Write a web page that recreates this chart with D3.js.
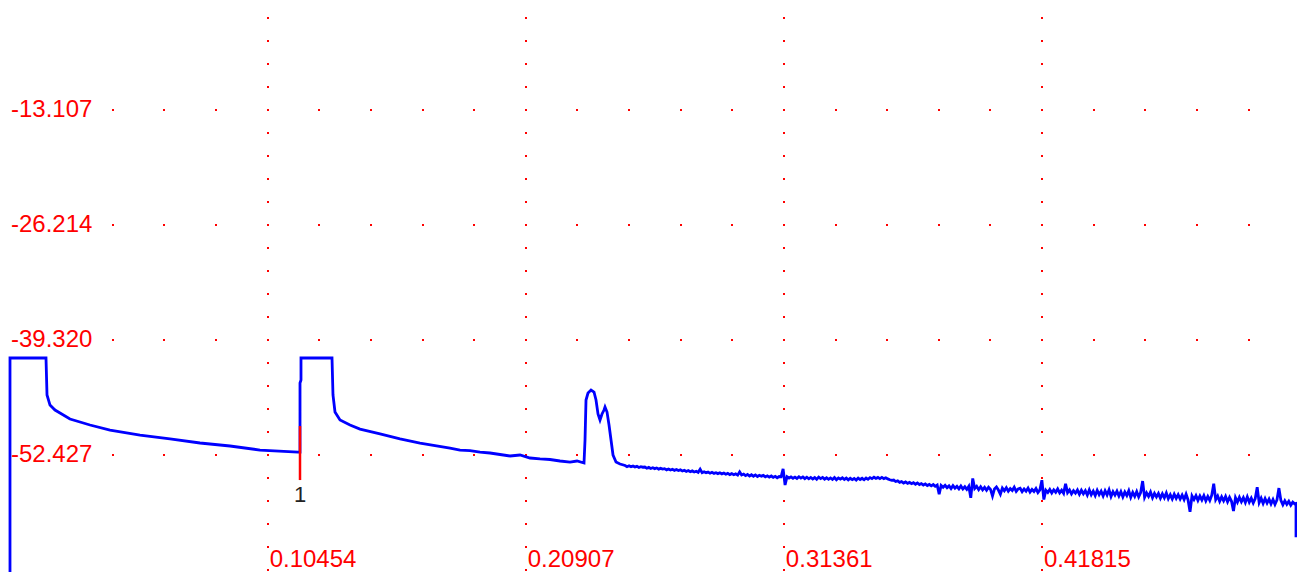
<!DOCTYPE html>
<html>
<head>
<meta charset="utf-8">
<script src="https://cdnjs.cloudflare.com/ajax/libs/d3/7.8.5/d3.min.js"></script>
<style>
  html, body { margin: 0; padding: 0; background: #fff; }
  svg { display: block; }
  .tick-label { font-family: Arial, "Liberation Sans", sans-serif; font-size: 24px; fill: #ff0000; }
  .event-label { font-family: Arial, "Liberation Sans", sans-serif; font-size: 22px; fill: #222; }
</style>
</head>
<body>
<svg id="chart"></svg>
<script>

// axis ticks (distance, level in dB)
var distanceTicks = [0.10454, 0.20907, 0.31361, 0.41815];
var levelTicks = [-13.107, -26.214, -39.320, -52.427];

// smooth part of the trace: launch pulse, event 1, reflective event
var traceDistances = [
  0.0002, 0.0002, 0.01478, 0.01519, 0.01640, 0.01843, 0.02045, 0.02450, 0.03260, 0.04070, 0.05285, 0.06500, 0.07715, 0.08930, 0.10145, 0.11684,
  0.11765, 0.11765, 0.11805, 0.11805, 0.13061, 0.13101, 0.13182, 0.13385, 0.13790, 0.14195, 0.15005, 0.15815, 0.16625, 0.17840, 0.18245, 0.18650, 0.19055, 0.19460, 0.19865, 0.20270, 0.20675, 0.21080, 0.21485, 0.21890, 0.22295, 0.22700, 0.22984, 0.23267,
  0.23308, 0.23348, 0.23429, 0.23551, 0.23672, 0.23753, 0.23834, 0.23915, 0.23996, 0.24077, 0.24118, 0.24199, 0.24280, 0.24361, 0.24442, 0.24563, 0.24725
];
var traceLevels = [
  -66.10, -41.37, -41.37, -45.59, -46.74, -47.30, -47.64, -48.32, -49.01, -49.58, -50.15, -50.60, -51.06, -51.40, -51.86, -52.09,
  -52.09, -44.22, -43.88, -41.37, -41.37, -45.59, -47.53, -48.44, -49.01, -49.47, -50.03, -50.60, -51.06, -51.63, -51.86, -51.92, -52.09, -52.20, -52.37, -52.54, -52.43, -52.77, -52.88, -52.94, -53.11, -53.23, -53.11, -53.34,
  -50.72, -46.16, -45.36, -45.02, -45.25, -46.16, -47.75, -48.44, -47.75, -47.30, -46.96, -47.53, -49.01, -50.72, -52.43, -53.23, -53.45
];

// noisy tail, sampled every tailStep from tailStart
var tailStart = 0.2493;
var tailStep = 0.0008;
var tailLevels = [
  -53.62, -53.76, -53.66, -53.77, -53.68, -53.80, -53.72, -53.85, -53.76, -53.82,
  -53.80, -53.93, -53.84, -53.96, -53.88, -53.98, -53.90, -54.04, -53.95, -54.03,
  -53.98, -54.12, -54.02, -54.14, -54.05, -54.18, -54.08, -54.20, -54.12, -54.25,
  -54.16, -54.30, -54.20, -54.33, -54.24, -54.36, -54.28, -54.40, -54.05, -54.45,
  -54.34, -54.46, -54.38, -54.50, -54.40, -54.52, -54.44, -54.55, -54.45, -54.58,
  -54.48, -54.62, -54.52, -54.66, -54.55, -54.68, -54.58, -54.72, -54.35, -54.70,
  -54.60, -54.78, -54.65, -54.82, -54.68, -54.85, -54.70, -54.88, -54.74, -54.84,
  -54.75, -54.92, -54.80, -54.95, -54.82, -54.98, -54.86, -55.02, -54.88, -54.90,
  -54.00, -55.85, -54.90, -55.05, -54.92, -55.08, -54.95, -55.10, -54.90, -55.06,
  -54.92, -55.12, -54.96, -55.14, -54.98, -55.16, -55.00, -55.20, -54.95, -55.12,
  -54.98, -55.18, -55.02, -55.20, -55.04, -55.22, -55.00, -55.25, -55.05, -55.18,
  -55.02, -55.22, -55.06, -55.26, -55.08, -55.24, -55.10, -55.28, -55.05, -55.22,
  -55.08, -55.25, -55.05, -55.20, -55.00, -55.12, -54.96, -55.10, -54.98, -55.12,
  -54.98, -55.12, -55.02, -55.15, -55.25, -55.32, -55.28, -55.45, -55.38, -55.55,
  -55.45, -55.62, -55.50, -55.66, -55.55, -55.70, -55.58, -55.76, -55.62, -55.80,
  -55.68, -55.85, -55.72, -55.90, -55.78, -55.94, -55.80, -56.00, -55.85, -56.90,
  -55.90, -56.10, -55.88, -56.15, -55.95, -56.25, -55.92, -56.20, -56.00, -56.28,
  -55.95, -56.30, -56.05, -56.35, -56.00, -57.30, -55.10, -56.25, -56.00, -56.38,
  -56.05, -56.40, -56.12, -56.45, -56.10, -56.35, -57.10, -56.30, -56.08, -56.42,
  -56.90, -56.20, -56.50, -56.15, -56.55, -56.25, -56.48, -56.10, -56.58, -56.30,
  -56.22, -56.60, -56.30, -56.55, -56.20, -56.65, -56.35, -56.58, -56.25, -56.70,
  -56.40, -55.30, -57.50, -56.45, -56.70, -56.35, -56.75, -56.40, -56.68, -56.30,
  -56.75, -56.45, -56.80, -55.70, -56.72, -56.40, -56.85, -56.50, -56.78, -56.42,
  -56.90, -56.45, -56.85, -56.50, -57.00, -56.40, -56.95, -56.55, -57.05, -56.45,
  -56.95, -56.55, -57.10, -56.50, -56.98, -56.40, -57.15, -56.60, -57.00, -56.55,
  -57.10, -56.60, -57.20, -56.65, -57.05, -56.50, -57.25, -56.70, -57.15, -56.60,
  -57.20, -56.70, -55.40, -57.25, -56.75, -57.15, -56.65, -57.30, -56.80, -57.20,
  -56.80, -57.35, -56.85, -57.30, -56.75, -57.40, -56.95, -57.45, -56.90, -57.38,
  -56.95, -57.45, -57.00, -57.50, -56.90, -57.55, -58.90, -57.10, -57.50, -57.05,
  -57.60, -57.10, -57.55, -57.05, -57.65, -57.15, -57.60, -57.00, -55.70, -57.50,
  -57.10, -57.70, -57.20, -57.65, -57.15, -57.75, -57.25, -57.70, -58.80, -57.30,
  -57.80, -57.25, -57.75, -57.30, -57.85, -57.20, -57.80, -57.35, -57.90, -57.40,
  -56.10, -57.85, -57.35, -57.95, -57.40, -57.90, -57.45, -58.00, -57.50, -58.05,
  -57.55, -56.20, -57.60, -58.10, -57.65, -58.05, -57.70, -58.15, -57.80, -58.00
];

// end of fibre
var endDistance = 0.52102;
var endLevels = [-57.95, -61.80];

// event markers
var eventDistances = [0.11765];
var eventLevels = [-52.09];
var eventLabels = ['1'];

var CONFIG = {
  width: 1297,
  height: 572,
  gridColor: '#ff0000',
  traceColor: '#0000ff',
  markerColor: '#ff0000'
};

var svg = d3.select('#chart')
  .attr('width', CONFIG.width)
  .attr('height', CONFIG.height);

var x = d3.scaleLinear()
  .domain([0, distanceTicks[3]])
  .range([9.5, 1042]);

var y = d3.scaleLinear()
  .domain([levelTicks[0], levelTicks[3]])
  .range([110, 455]);

// 5 dots per major division
var xMinor = distanceTicks[0] / 5;
var yMinor = -levelTicks[0] / 5;

//---------------------------------------------------------------------------------------
// DOTTED GRID
//---------------------------------------------------------------------------------------

var dots = [];
distanceTicks.forEach(function (t) {
  for (var k = 1; y(-k * yMinor) <= CONFIG.height; k++) {
    dots.push([x(t), y(-k * yMinor)]);
  }
});
levelTicks.forEach(function (t) {
  for (var k = 0; x(k * xMinor) <= CONFIG.width; k++) {
    dots.push([x(k * xMinor), y(t)]);
  }
});

svg.append('g').selectAll('rect')
  .data(dots)
  .enter().append('rect')
  .attr('x', function (d) { return Math.round(d[0]) - 1; })
  .attr('y', function (d) { return Math.round(d[1]) - 1; })
  .attr('width', 2)
  .attr('height', 2)
  .style('fill', CONFIG.gridColor);

//---------------------------------------------------------------------------------------
// TICK LABELS
//---------------------------------------------------------------------------------------

var yLabels = svg.append('g').selectAll('g')
  .data(levelTicks)
  .enter().append('g');

yLabels.append('text')
  .attr('class', 'tick-label')
  .attr('x', 11)
  .attr('y', function (d) { return y(d) + 7; })
  .text(function (d) { return d.toFixed(3); });

yLabels.insert('rect', 'text')
  .attr('x', 0)
  .attr('y', function (d) { return y(d) - 12; })
  .attr('width', function () {
    var box = this.parentNode.querySelector('text').getBBox();
    return box.x + box.width + 3;
  })
  .attr('height', 24)
  .style('fill', '#fff');

svg.append('g').selectAll('text')
  .data(distanceTicks)
  .enter().append('text')
  .attr('class', 'tick-label')
  .attr('x', function (d) { return x(d) + 2; })
  .attr('y', CONFIG.height - 5)
  .text(function (d) { return d.toFixed(5); });

//---------------------------------------------------------------------------------------
// TRACE
//---------------------------------------------------------------------------------------

var points = traceDistances.map(function (d, i) { return [d, traceLevels[i]]; });
tailLevels.forEach(function (v, i) { points.push([tailStart + i * tailStep, v]); });
endLevels.forEach(function (v) { points.push([endDistance, v]); });

var line = d3.line()
  .x(function (d) { return x(d[0]); })
  .y(function (d) { return y(d[1]); });

svg.append('path')
  .datum(points)
  .attr('d', line)
  .style('fill', 'none')
  .style('stroke', CONFIG.traceColor)
  .style('stroke-width', 2.8);

//---------------------------------------------------------------------------------------
// EVENT MARKERS
//---------------------------------------------------------------------------------------

var markers = svg.append('g').selectAll('g')
  .data(eventDistances)
  .enter().append('g');

markers.append('line')
  .attr('x1', function (d) { return x(d); })
  .attr('x2', function (d) { return x(d); })
  .attr('y1', function (d, i) { return y(eventLevels[i]) - 26; })
  .attr('y2', function (d, i) { return y(eventLevels[i]) + 28; })
  .style('stroke', CONFIG.markerColor)
  .style('stroke-width', 2.5);

markers.append('text')
  .attr('class', 'event-label')
  .attr('x', function (d) { return x(d); })
  .attr('y', function (d, i) { return y(eventLevels[i]) + 50; })
  .style('text-anchor', 'middle')
  .text(function (d, i) { return eventLabels[i]; });

</script>
</body>
</html>
